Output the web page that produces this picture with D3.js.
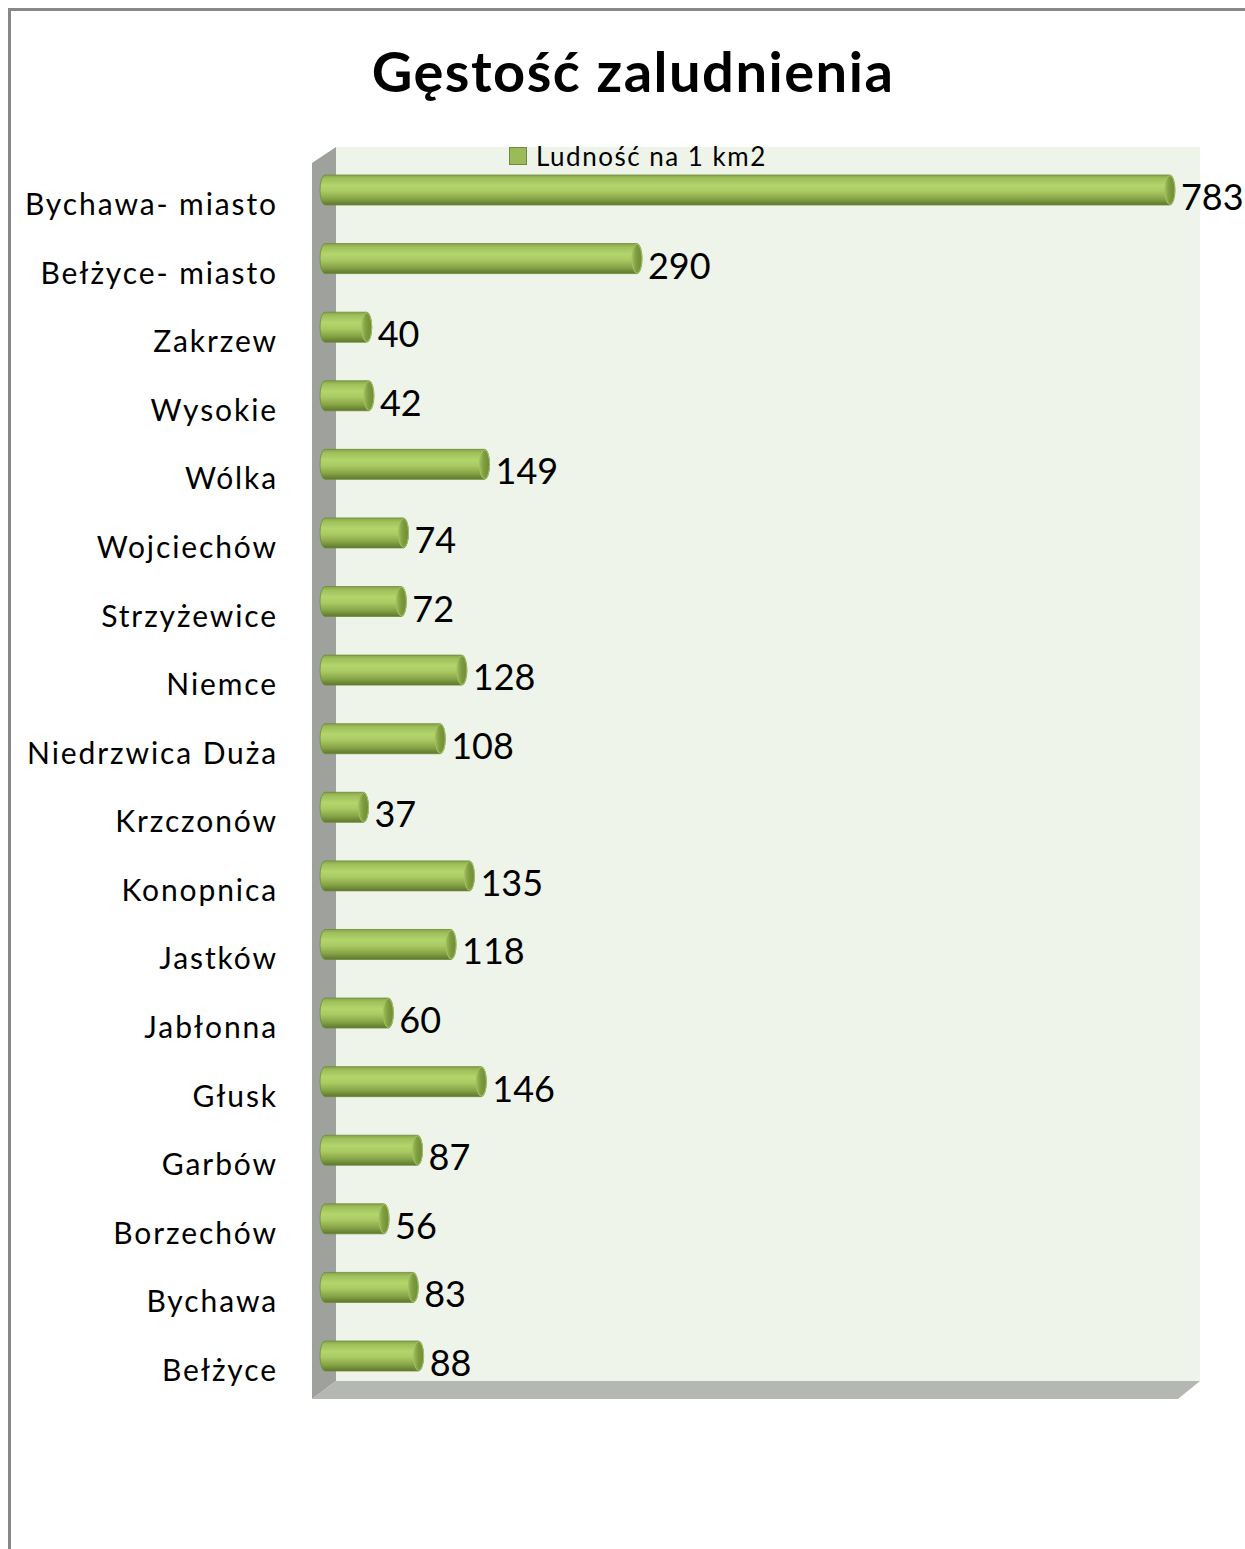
<!DOCTYPE html>
<html>
<head>
<meta charset="utf-8">
<script src="https://cdn.jsdelivr.net/npm/d3@7"></script>
<style>
  html, body { margin: 0; padding: 0; background: #fff; }
  svg { display: block; }
  text { font-family: Lato, "Noto Sans", sans-serif; fill: #000; }
</style>
</head>
<body>
<script>
// Population density per gmina (people per km²)
const title = "Gęstość zaludnienia";
const seriesName = "Ludność na 1 km2";
const categories = [
  "Bychawa- miasto", "Bełżyce- miasto", "Zakrzew", "Wysokie", "Wólka",
  "Wojciechów", "Strzyżewice", "Niemce", "Niedrzwica Duża", "Krzczonów",
  "Konopnica", "Jastków", "Jabłonna", "Głusk", "Garbów", "Borzechów",
  "Bychawa", "Bełżyce"
];
const values = [783, 290, 40, 42, 149, 74, 72, 128, 108, 37, 135, 118, 60, 146, 87, 56, 83, 88];
const axisMax = 800;

const W = 1245, H = 1549;
const svg = d3.select("body").append("svg").attr("width", W).attr("height", H);

// Outer chart frame
svg.append("path")
  .attr("d", `M9.5,${H + 2} L9.5,9.5 L${W + 2},9.5`)
  .attr("fill", "none").attr("stroke", "#878787").attr("stroke-width", 3);

// Plot box (3D walls)
const wall = { left: 336, right: 1200, top: 147, bottom: 1381, depth: 24, drop: 17 };

const defs = svg.append("defs");
const barGrad = defs.append("linearGradient").attr("id", "barGrad")
  .attr("x1", 0).attr("y1", 0).attr("x2", 0).attr("y2", 1);
[[0, "#86a548"], [0.12, "#9fc05a"], [0.35, "#b4d46c"], [0.55, "#a9c962"],
 [0.8, "#86a346"], [1, "#5d772d"]].forEach(([o, c]) =>
  barGrad.append("stop").attr("offset", o).attr("stop-color", c));
const capGrad = defs.append("linearGradient").attr("id", "capGrad")
  .attr("x1", 0).attr("y1", 0).attr("x2", 1).attr("y2", 0);
[[0, "#9cbd58"], [0.45, "#7f9c3f"], [1, "#6f8b36"]].forEach(([o, c]) =>
  capGrad.append("stop").attr("offset", o).attr("stop-color", c));

svg.append("rect")
  .attr("x", wall.left).attr("y", wall.top)
  .attr("width", wall.right - wall.left).attr("height", wall.bottom - wall.top)
  .attr("fill", "#eef4ea");
svg.append("polygon")
  .attr("points", [
    [wall.left - wall.depth, wall.top + wall.drop - 1], [wall.left, wall.top],
    [wall.left, wall.bottom], [wall.left - wall.depth, wall.bottom + wall.drop + 1]
  ].map(p => p.join(",")).join(" "))
  .attr("fill", "#9fa29c");
svg.append("polygon")
  .attr("points", [
    [wall.left, wall.bottom], [wall.right, wall.bottom],
    [wall.right - 22, wall.bottom + 18], [wall.left - wall.depth, wall.bottom + 18]
  ].map(p => p.join(",")).join(" "))
  .attr("fill", "#b5b8b2");

// Scales
const x = d3.scaleLinear().domain([0, axisMax]).range([328.5, 328.5 + axisMax * 1.081]);
const y = d3.scalePoint().domain(categories).range([190, 1356]);
const barH = 30, rx = 5, barLeft = 325;

// Legend
const lg = svg.append("g").attr("transform", "translate(509,147)");
lg.append("rect").attr("x", 0.5).attr("y", 0.5).attr("width", 17).attr("height", 17)
  .attr("fill", "#9bbb59").attr("stroke", "#71893f").attr("stroke-width", 1);
lg.append("text").attr("x", 27).attr("y", 9).attr("dominant-baseline", "central")
  .attr("font-size", 26).attr("letter-spacing", 1.5).text(seriesName);

// Category labels
svg.append("g").selectAll("text").data(categories).join("text")
  .attr("x", 278).attr("y", d => y(d) + 13)
  .attr("text-anchor", "end").attr("dominant-baseline", "central")
  .attr("font-size", 30).attr("letter-spacing", 1.9).text(d => d);

// Cylinder bars
const rows = categories.map((c, i) => ({ c, v: values[i] }));
const bars = svg.append("g").selectAll("g").data(rows).join("g");
bars.append("path")
  .attr("d", d => {
    const t = y(d.c) - barH / 2, b = y(d.c) + barH / 2, xe = x(d.v) - rx;
    return `M${barLeft},${t} L${xe},${t} A${rx},${barH / 2} 0 0 1 ${xe},${b} ` +
           `L${barLeft},${b} A${rx},${barH / 2} 0 0 1 ${barLeft},${t} Z`;
  })
  .attr("fill", "url(#barGrad)").attr("stroke", "#6f8a3a").attr("stroke-width", 0.8);
bars.append("ellipse")
  .attr("cx", d => x(d.v) - rx).attr("cy", d => y(d.c))
  .attr("rx", rx).attr("ry", barH / 2 - 0.5)
  .attr("fill", "url(#capGrad)").attr("stroke", "#a3c263").attr("stroke-width", 1);

// Value labels
bars.append("text")
  .attr("x", d => x(d.v) + 6).attr("y", d => y(d.c) + 6)
  .attr("dominant-baseline", "central").attr("font-size", 36)
  .text(d => d.v);

// Title
svg.append("text").attr("x", 633).attr("y", 92)
  .attr("text-anchor", "middle").attr("font-size", 56).attr("font-weight", "bold")
  .attr("letter-spacing", 1.5)
  .text(title);
</script>
</body>
</html>
